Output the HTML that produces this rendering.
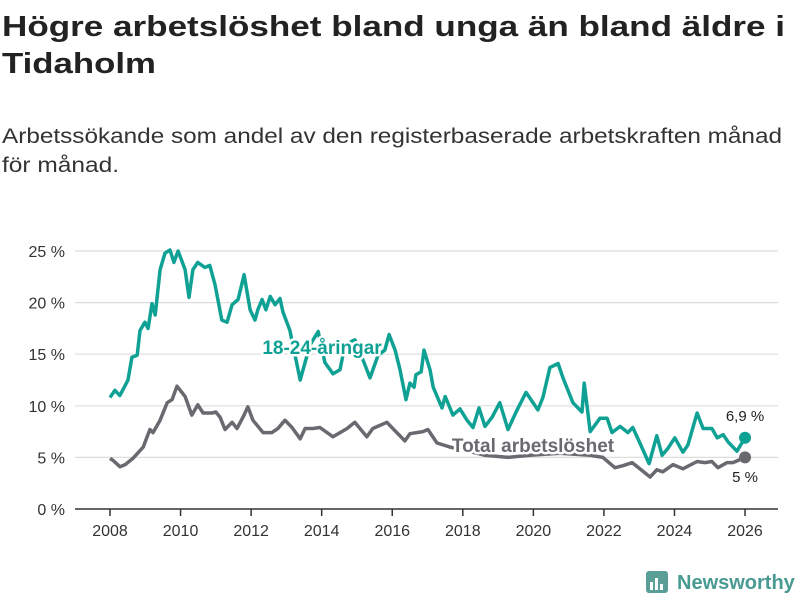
<!DOCTYPE html>
<html><head><meta charset="utf-8"><style>
body{margin:0;background:#fff;}
svg{display:block;font-family:"Liberation Sans",sans-serif;}
</style></head><body>
<svg id="chart" width="800" height="600" viewBox="0 0 800 600">
<text x="2" y="36" font-size="29" font-weight="bold" fill="#222" textLength="783" lengthAdjust="spacingAndGlyphs">Högre arbetslöshet bland unga än bland äldre i</text>
<text x="2" y="73" font-size="29" font-weight="bold" fill="#222" textLength="154" lengthAdjust="spacingAndGlyphs">Tidaholm</text>
<text x="2" y="143" font-size="21" fill="#333" textLength="780" lengthAdjust="spacingAndGlyphs">Arbetssökande som andel av den registerbaserade arbetskraften månad</text>
<text x="2" y="172" font-size="21" fill="#333" textLength="117" lengthAdjust="spacingAndGlyphs">för månad.</text>
<g id="grid"></g><g id="axes"></g><g id="series"></g><g id="labels"></g>
<g>
<rect x="646" y="571" width="22" height="22" rx="3" fill="#5a9e98"/>
<rect x="650" y="582" width="3" height="8" fill="#fff"/><rect x="655" y="578" width="3" height="12" fill="#fff"/><rect x="660" y="584" width="3" height="6" fill="#fff"/>
<text x="677" y="589" font-size="20" font-weight="bold" fill="#4a9a94">Newsworthy</text>
</g>
</svg>
<script>
const yTicks=[0,5,10,15,20,25];
const xTicks=[2008,2010,2012,2014,2016,2018,2020,2022,2024,2026];
const youthYears=[2008.00,2008.14,2008.28,2008.51,2008.62,2008.77,2008.85,2008.99,2009.08,2009.19,2009.28,2009.42,2009.56,2009.70,2009.81,2009.93,2010.13,2010.24,2010.35,2010.49,2010.69,2010.83,2010.98,2011.17,2011.32,2011.46,2011.63,2011.80,2011.97,2012.11,2012.19,2012.31,2012.42,2012.54,2012.68,2012.82,2012.90,2013.10,2013.39,2013.67,2013.90,2014.09,2014.32,2014.52,2014.66,2014.94,2015.20,2015.37,2015.60,2015.79,2015.91,2016.08,2016.22,2016.39,2016.50,2016.62,2016.67,2016.82,2016.90,2017.07,2017.16,2017.41,2017.50,2017.72,2017.92,2018.12,2018.29,2018.46,2018.63,2018.83,2019.05,2019.28,2019.54,2019.79,2020.13,2020.27,2020.47,2020.70,2020.84,2021.12,2021.38,2021.44,2021.61,2021.89,2022.09,2022.23,2022.46,2022.68,2022.82,2023.02,2023.28,2023.50,2023.65,2023.82,2024.01,2024.24,2024.38,2024.64,2024.81,2025.06,2025.21,2025.38,2025.52,2025.77,2026.00];
const youthValues=[10.8,11.5,11.0,12.5,14.7,14.9,17.3,18.1,17.5,19.9,18.8,23.2,24.8,25.1,23.9,25.0,23.2,20.5,23.2,23.9,23.4,23.6,21.7,18.3,18.1,19.8,20.3,22.7,19.3,18.3,19.3,20.3,19.3,20.6,19.8,20.4,19.1,17.3,12.5,15.9,17.2,14.2,13.1,13.5,15.9,16.4,14.2,12.7,14.9,15.4,16.9,15.4,13.5,10.6,12.2,11.8,13.0,13.3,15.4,13.5,11.8,9.8,10.9,9.1,9.7,8.6,7.9,9.8,8.0,8.9,10.3,7.7,9.6,11.3,9.6,10.8,13.7,14.1,12.7,10.3,9.4,12.2,7.5,8.8,8.8,7.4,8.0,7.4,7.9,6.4,4.4,7.1,5.2,5.9,6.9,5.5,6.2,9.3,7.8,7.8,6.9,7.2,6.5,5.6,6.9];
const totalYears=[2008.00,2008.09,2008.28,2008.43,2008.65,2008.94,2009.13,2009.22,2009.42,2009.62,2009.76,2009.90,2010.13,2010.32,2010.49,2010.64,2010.89,2011.00,2011.12,2011.26,2011.46,2011.60,2011.77,2011.91,2012.05,2012.34,2012.59,2012.76,2012.96,2013.16,2013.39,2013.53,2013.75,2013.95,2014.32,2014.72,2014.94,2015.28,2015.45,2015.85,2016.13,2016.36,2016.50,2016.87,2017.01,2017.27,2017.64,2018.06,2018.63,2019.28,2019.90,2020.75,2021.61,2021.97,2022.31,2022.54,2022.80,2023.31,2023.50,2023.67,2023.96,2024.24,2024.64,2024.86,2025.06,2025.23,2025.49,2025.66,2026.00];
const totalValues=[4.9,4.7,4.1,4.3,4.9,6.0,7.7,7.4,8.6,10.3,10.6,11.9,10.9,9.1,10.1,9.3,9.3,9.4,8.9,7.7,8.4,7.8,8.9,9.9,8.6,7.4,7.4,7.8,8.6,7.9,6.8,7.8,7.8,7.9,7.0,7.8,8.4,7.0,7.8,8.4,7.4,6.6,7.3,7.5,7.7,6.4,6.0,5.7,5.2,5.0,5.2,5.4,5.2,5.0,4.0,4.2,4.5,3.1,3.8,3.6,4.3,3.9,4.6,4.5,4.6,4.0,4.5,4.5,5.0];
const NS="http://www.w3.org/2000/svg";
const X=y=>110+(y-2008)*35.28;
const Y=v=>509-v*10.32;
function mk(tag,attrs,parent){const e=document.createElementNS(NS,tag);for(const k in attrs)e.setAttribute(k,attrs[k]);parent.appendChild(e);return e;}
const grid=document.getElementById('grid'),axes=document.getElementById('axes'),series=document.getElementById('series'),labels=document.getElementById('labels');
yTicks.forEach(t=>{
  const l=mk('line',{x1:75,x2:778,y1:Y(t),y2:Y(t),stroke:t===0?'#333':'#ddd','stroke-width':t===0?1.5:1.2},grid);
  
  
  const tx=mk('text',{x:65,y:Y(t)+6,'text-anchor':'end','font-size':16,fill:'#333'},axes);
  tx.textContent=t+' %';
  
  
});
xTicks.forEach(t=>{
  const l=mk('line',{x1:X(t),x2:X(t),y1:509,y2:516,stroke:'#333','stroke-width':1.5},axes);
  
  
  const tx=mk('text',{x:X(t),y:536,'text-anchor':'middle','font-size':16,fill:'#333'},axes);
  tx.textContent=t;
  
  
});
function line(xs,vs,color,name){
  const d=xs.map((x,i)=>(i?'L':'M')+X(x).toFixed(1)+','+Y(vs[i]).toFixed(1)).join('');
  const p=mk('path',{d:d,fill:'none',stroke:color,'stroke-width':3.5,'stroke-linejoin':'round'},series);
  
  
  const n=xs.length-1;
  const c=mk('circle',{cx:X(xs[n]),cy:Y(vs[n]),r:6,fill:color},series);
  
  
}
line(totalYears,totalValues,'#6b6970','total-line');
line(youthYears,youthValues,'#10a195','youth-line');
function lab(x,y,txt,color,size,bold,anchor,name){
  const t=mk('text',{x:x,y:y,'font-size':size,'font-weight':bold?'bold':'normal',fill:color,'text-anchor':anchor,stroke:'#fff','stroke-width':bold?5:4,'paint-order':'stroke','stroke-linejoin':'round'},labels);
  t.textContent=txt;
  
  
}
lab(322,354,'18-24-åringar','#10a195',19,true,'middle','youth-series-label');
lab(533,452,'Total arbetslöshet','#6b6970',19,true,'middle','total-series-label');
lab(745,421,'6,9 %','#222',15,false,'middle','youth-end-value');
lab(745,482,'5 %','#222',15,false,'middle','total-end-value');
</script>
</body></html>
